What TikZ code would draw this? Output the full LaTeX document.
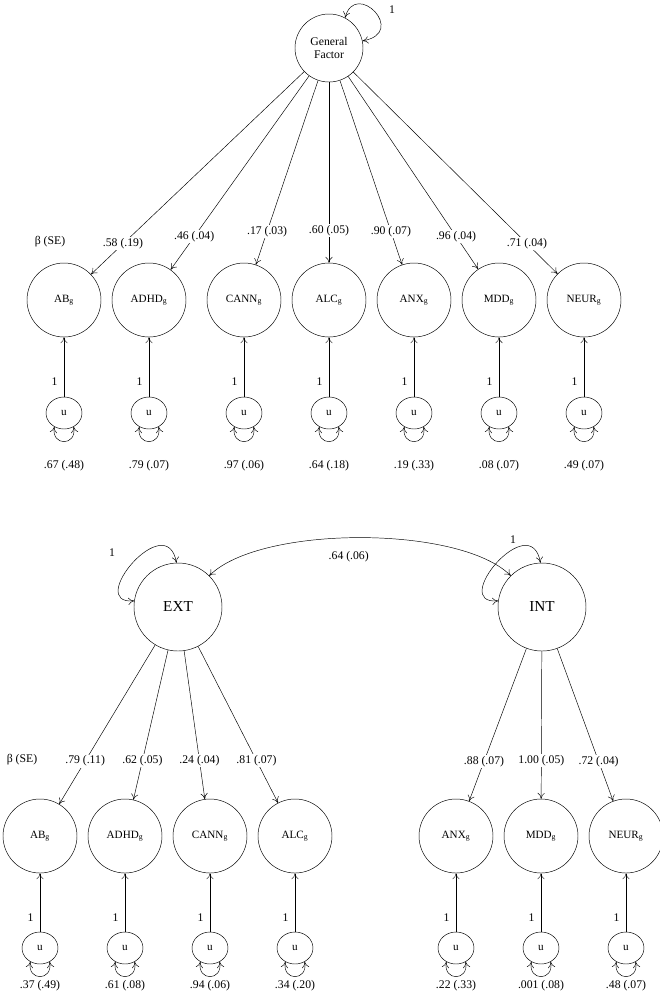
\documentclass[tikz,border=0pt]{standalone}
\usepackage{fontspec}
\setmainfont{Liberation Serif}
\usetikzlibrary{arrows.meta,shapes.geometric}
\begin{document}
\begin{tikzpicture}[x=0.03cm,y=-0.03cm,
    lat/.style={draw,circle,minimum size=74*0.03cm,inner sep=0pt,font=\fontsize{9.5}{10}\selectfont},
    big/.style={draw,circle,minimum size=88*0.03cm,inner sep=0pt,font=\fontsize{13}{14}\selectfont},
    res/.style={draw,ellipse,minimum width=36*0.03cm,minimum height=32*0.03cm,inner sep=0pt,font=\fontsize{9.5}{10}\selectfont},
    lbl/.style={font=\fontsize{10}{11}\selectfont,fill=white,inner sep=1pt},
    txt/.style={font=\fontsize{10}{11}\selectfont},
    arr/.style={-{To[length=5pt,width=6pt]}},
    dbl/.style={{To[length=5pt,width=6pt]}-{To[length=5pt,width=6pt]}}]
    \useasboundingbox (0,0) rectangle (659,997);

    % general factor model
    \node[draw,circle,minimum size=68*0.03cm,inner sep=0pt,align=center,font=\fontsize{10}{11}\selectfont] (gf) at (329,48) {General\\Factor};
    \draw[dbl] (gf.62) .. controls +(75:1.2cm) and +(10:1.4cm) .. (gf.12);
    \node[txt] (gf1) at (392,10) {1};
    \node[txt] (beta1) at (50,242) {β (SE)};
    \foreach \name/\x/\lab/\b/\v/\p in {ab/64/AB/.58 (.19)/.67 (.48)/0.85,
        adhd/149/ADHD/.46 (.04)/.79 (.07)/0.83,
        cann/244/CANN/.17 (.03)/.97 (.06)/0.82,
        alc/329/ALC/.60 (.05)/.64 (.18)/0.82,
        anx/414/ANX/.90 (.07)/.19 (.33)/0.82,
        mdd/499/MDD/.96 (.04)/.08 (.07)/0.83,
        neur/584/NEUR/.71 (.04)/.49 (.07)/0.85}{
        \node[lat] (\name) at (\x,300) {\lab$_{\mathrm{g}}$};
        \node[res] (u\name) at (\x,413) {u};
        \draw[arr] (gf) -- node[lbl,pos=\p] (b\name) {\b} (\name);
        \draw[arr] (u\name) -- node[txt,left=2pt,pos=0.25] (one\name) {1} (\name);
        \draw[dbl] (u\name.235) .. controls +(-100:0.6cm) and +(-80:0.6cm) .. (u\name.305);
        \node[txt] (v\name) at (\x,466) {\v};
    }

    % correlated factors model
    \node[big] (ext) at (178,607) {EXT};
    \node[big] (int) at (542,607) {INT};
    \draw[dbl] (ext.92) .. controls +(100:1.7cm) and +(185:1.5cm) .. (ext.172);
    \draw[dbl] (int.92) .. controls +(100:1.7cm) and +(185:1.5cm) .. (int.172);
    \node[txt] (ext1) at (112,553) {1};
    \node[txt] (int1) at (513,540) {1};
    \draw[dbl] (ext.45) .. controls (260,525) and (460,525) .. node[txt,pos=0.47,below=8pt] (cov) {.64 (.06)} (int.135);
    \node[txt] (beta2) at (22,760) {β (SE)};
    \foreach \f/\name/\x/\lab/\b/\v/\p in {ext/eab/40/AB/.79 (.11)/.37 (.49)/0.73,
        ext/eadhd/125/ADHD/.62 (.05)/.61 (.08)/0.74,
        ext/ecann/210/CANN/.24 (.04)/.94 (.06)/0.74,
        ext/ealc/295/ALC/.81 (.07)/.34 (.20)/0.73,
        int/ianx/456/ANX/.88 (.07)/.22 (.33)/0.74,
        int/imdd/541/MDD/1.00 (.05)/.001 (.08)/0.74,
        int/ineur/626/NEUR/.72 (.04)/.48 (.07)/0.74}{
        \node[lat] (\name) at (\x,836) {\lab$_{\mathrm{g}}$};
        \node[res] (u\name) at (\x,948) {u};
        \draw[arr] (\f) -- node[lbl,pos=\p] (b\name) {\b} (\name);
        \draw[arr] (u\name) -- node[txt,left=2pt,pos=0.25] (one\name) {1} (\name);
        \draw[dbl] (u\name.235) .. controls +(-100:0.6cm) and +(-80:0.6cm) .. (u\name.305);
        \node[txt] (v\name) at (\x,986) {\v};
    }
\end{tikzpicture}
\end{document}
